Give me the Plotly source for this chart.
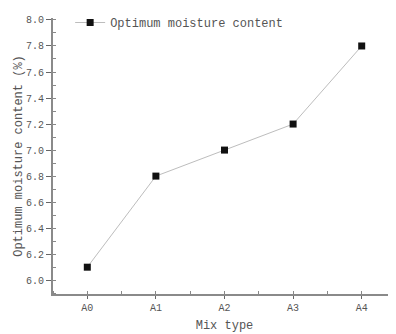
import plotly.graph_objects as go

mix_types = ["A0", "A1", "A2", "A3", "A4"]
moisture = [6.1, 6.8, 7.0, 7.2, 7.8]
series_name = "Optimum moisture content"

font_fam = "Liberation Mono, DejaVu Sans Mono, monospace"
x_pos = list(range(len(mix_types)))

fig = go.Figure()
fig.add_trace(go.Scatter(
    x=x_pos, y=moisture, mode="lines+markers", name=series_name,
    line=dict(color="#bdbdbd", width=1),
    marker=dict(symbol="square", size=7, color="#111111"),
))

# page body has an 8px default margin; compensate in the figure margins
fig.update_layout(
    width=388, height=326,
    margin=dict(l=45, r=0, t=5, b=40),
    paper_bgcolor="white", plot_bgcolor="white",
    font=dict(family=font_fam, color="#555555", size=10),
    showlegend=True,
    legend=dict(x=0.05, y=1.037, xanchor="left", yanchor="top",
                font=dict(size=12, color="#555555", family=font_fam),
                bgcolor="rgba(0,0,0,0)", itemwidth=30),
    xaxis=dict(
        range=[-0.5, 4.5],
        tickvals=x_pos, ticktext=mix_types,
        title=dict(text="Mix type", font=dict(size=12, family=font_fam, color="#555555"), standoff=8),
        showline=True, linecolor="#8a8a8a", linewidth=2,
        ticks="outside", ticklen=3, tickcolor="#666666", tickwidth=1,
        minor=dict(ticks="inside", ticklen=3, dtick=0.5, tick0=-0.5, tickcolor="#888888"),
        showgrid=False, zeroline=False,
        tickfont=dict(size=10, color="#555555"),
    ),
    yaxis=dict(
        range=[5.894, 8.015],
        title=dict(text="Optimum moisture content (%)", font=dict(size=12, family=font_fam, color="#555555"), standoff=1),
        showline=True, linecolor="#8a8a8a", linewidth=2,
        ticks="outside", ticklen=5, tickcolor="#666666", tickwidth=1,
        dtick=0.2, tick0=6.0, tickformat=".1f",
        minor=dict(ticks="inside", ticklen=3, dtick=0.1, tickcolor="#888888"),
        showgrid=False, zeroline=False,
        tickfont=dict(size=10, color="#555555"),
    ),
)

fig.write_html("out.html")
